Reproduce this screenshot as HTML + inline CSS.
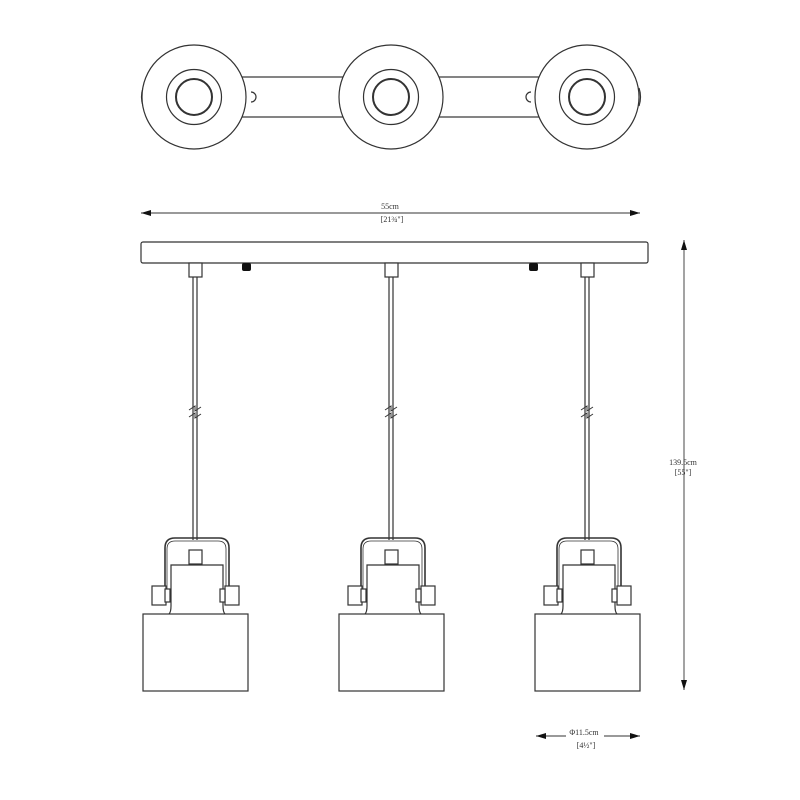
<!DOCTYPE html>
<html><head><style>html,body{margin:0;padding:0;background:#fff}svg{display:block}</style></head><body>
<svg width="800" height="800" viewBox="0 0 800 800" xmlns="http://www.w3.org/2000/svg" font-family="Liberation Serif, serif" fill="none" stroke="#333" stroke-width="1.2">
<defs>
<marker id="a" viewBox="0 0 10 6" refX="10" refY="3" markerWidth="10" markerHeight="6" orient="auto-start-reverse" markerUnits="userSpaceOnUse"><path d="M0,0 L10,3 L0,6 Z" fill="#111" stroke="none"/></marker>
<g id="top">
<circle cx="0" cy="0" r="52" fill="#fff"/>
<circle cx="0" cy="0" r="27.5"/>
<circle cx="0" cy="0" r="18" stroke-width="2"/>
</g>
<g id="pend">
<line x1="-2" y1="277" x2="-2" y2="540"/><line x1="2" y1="277" x2="2" y2="540"/>
<path d="M-6,410 l6,-4 l0,5 l6,-4 M-6,417 l6,-4 l0,5 l6,-4" stroke-width="1"/>
<rect x="-6" y="263" width="13" height="14" fill="#fff"/>
<path d="M-30,596 V548 q0,-10 10,-10 H24 q10,0 10,10 V596" stroke-width="1.6"/>
<path d="M-28,596 V549 q0,-8 8,-8 H23 q8,0 8,8 V596" stroke-width="0.8"/>
<rect x="-6" y="550" width="13" height="14" fill="#fff"/>
<path d="M-26,614 q2,-2 2,-8 V565 H28 V606 q0,6 2,8" fill="#fff"/>
<rect x="-43" y="586" width="14" height="19" fill="#fff"/>
<rect x="-30" y="589" width="5" height="13" fill="#fff"/>
<rect x="30" y="586" width="14" height="19" fill="#fff"/>
<rect x="25" y="589" width="5" height="13" fill="#fff"/>
<rect x="-52" y="614" width="105" height="77" fill="#fff"/>
</g>
</defs>
<rect x="195" y="77" width="392" height="40" fill="#fff"/>
<path d="M251,92 a5,5 0 0 1 0,10" /><path d="M531,92 a5,5 0 0 0 0,10"/>
<path d="M143,88 q-3,9 0,18"/><path d="M639,88 q3,9 0,18"/>
<use href="#top" x="194" y="97"/>
<use href="#top" x="391" y="97"/>
<use href="#top" x="587" y="97"/>

<line x1="141" y1="213" x2="640" y2="213" stroke-width="0.9" marker-start="url(#a)" marker-end="url(#a)"/>
<g fill="#333" stroke="none" font-size="8" text-anchor="middle">
<text x="390" y="209">55cm</text><text x="392" y="222">[21¾"]</text>
<text x="683" y="465">139.5cm</text><text x="683" y="475">[55"]</text>
<text x="584" y="735">Φ11.5cm</text><text x="586" y="748">[4½"]</text>
</g>
<rect x="141" y="242" width="507" height="21" rx="2" fill="#fff"/>
<rect x="242" y="263" width="9" height="8" rx="2" fill="#111" stroke="none"/>
<rect x="529" y="263" width="9" height="8" rx="2" fill="#111" stroke="none"/>
<use href="#pend" x="195"/><use href="#pend" x="391"/><use href="#pend" x="587"/>
<line x1="684" y1="240" x2="684" y2="690" stroke-width="0.9" marker-start="url(#a)" marker-end="url(#a)"/>
<line x1="536" y1="736" x2="566" y2="736" stroke-width="0.9" marker-start="url(#a)"/>
<line x1="604" y1="736" x2="640" y2="736" stroke-width="0.9" marker-end="url(#a)"/>
</svg>
</body></html>
